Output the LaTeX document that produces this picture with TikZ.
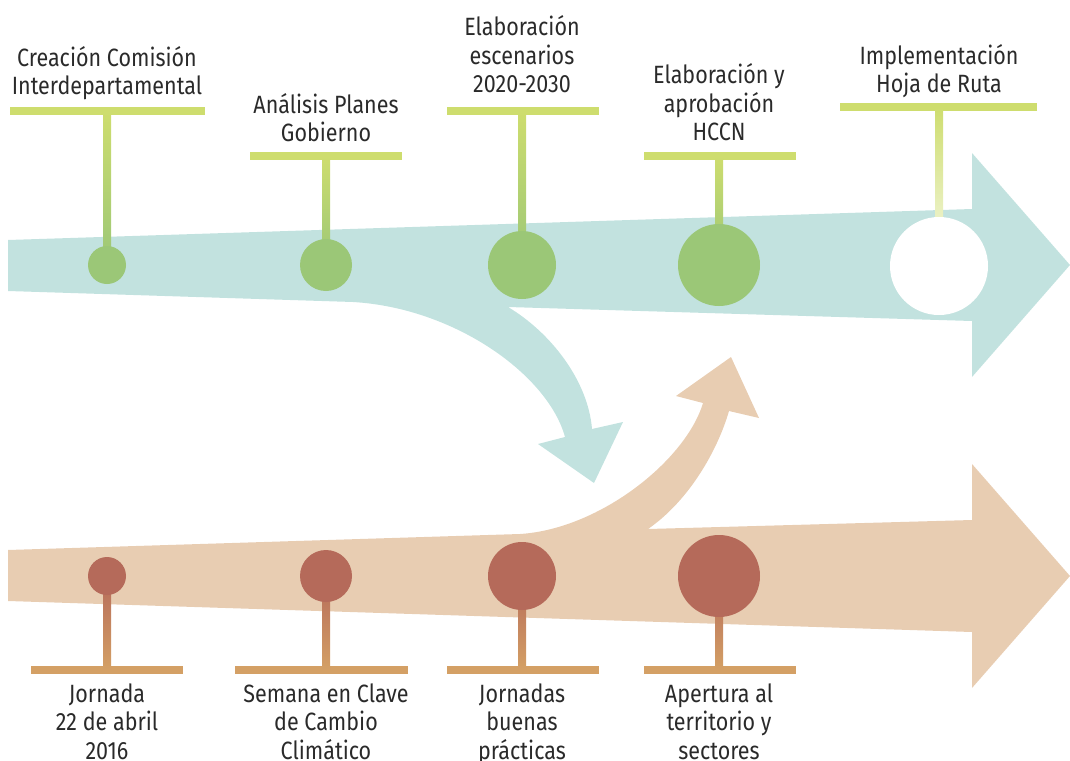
\documentclass[tikz,border=0pt]{standalone}
\usepackage{fontspec}
\setmainfont{Fira Sans}[FakeStretch=0.86]
\definecolor{tealband}{HTML}{C2E2DF}
\definecolor{tanband}{HTML}{E8CDB2}
\definecolor{greendot}{HTML}{9BC777}
\definecolor{browndot}{HTML}{B56A5A}
\definecolor{limebar}{HTML}{CEDD6E}
\definecolor{ochrebar}{HTML}{D4A065}
\definecolor{txt}{HTML}{2A2A2A}
\begin{document}
\begin{tikzpicture}[x=1pt,y=-1pt,
  lbl/.style={font=\fontsize{25}{28.5}\selectfont, text=txt, align=center, inner sep=0pt},
  dot/.style={circle, inner sep=0pt, draw=none, minimum size=#1},
  topdot/.style={dot=#1, fill=greendot},
  botdot/.style={dot=#1, fill=browndot},
  bar/.style={rectangle, inner sep=0pt, draw=none, minimum height=8pt, minimum width=#1},
  topbar/.style={bar=#1, fill=limebar},
  botbar/.style={bar=#1, fill=ochrebar},
  topstem/.style={top color=limebar, bottom color=greendot},
  botstem/.style={top color=browndot, bottom color=ochrebar}
]
\useasboundingbox (0,0) rectangle (1070,760);

% bands
\fill[tealband] (8,240) -- (972,209) -- (972,153) -- (1070,265) -- (972,377) -- (972,321) -- (508,307)
  .. controls (550,332) and (588,380) .. (592,429) -- (623,422) -- (594,483) -- (538,444) -- (565,437)
  .. controls (548,375) and (455,308) .. (353,302) -- (8,291) -- cycle;
\fill[tanband] (8,550) -- (520,534) .. controls (600,529) and (686,460) .. (703,403) -- (676,396)
  -- (731,357) -- (759,418) -- (729,411) .. controls (718,449) and (690,500) .. (648,529)
  -- (972,520) -- (972,464) -- (1070,576) -- (972,688) -- (972,632) -- (8,601) -- cycle;

% bars (top)
\node[topbar=195] (b1) at (107.5,111) {};
\node[topbar=152] (b2) at (326,156) {};
\node[topbar=152] (b3) at (523,111) {};
\node[topbar=152] (b4) at (720,156) {};
\node[topbar=197] (b5) at (938.5,107) {};
% bars (bottom)
\node[botbar=152] (d1) at (107,670) {};
\node[botbar=173] (d2) at (321.5,670) {};
\node[botbar=152] (d3) at (523,670) {};
\node[botbar=152] (d4) at (720,670) {};

% dot positions
\path (107,265) coordinate (c1p) (326,265) coordinate (c2p) (522,265) coordinate (c3p)
      (719,265) coordinate (c4p) (939,266) coordinate (c5p);
\path (107,576) coordinate (e1p) (326,576) coordinate (e2p) (522,576) coordinate (e3p)
      (719,576) coordinate (e4p);

% stems (top)
\shade[topstem] ([xshift=-4pt]b1.center -| c1p) rectangle ([xshift=4pt]c1p);
\shade[topstem] ([xshift=-4pt]b2.center -| c2p) rectangle ([xshift=4pt]c2p);
\shade[topstem] ([xshift=-4pt]b3.center -| c3p) rectangle ([xshift=4pt]c3p);
\shade[topstem] ([xshift=-4pt]b4.center -| c4p) rectangle ([xshift=4pt]c4p);
\shade[top color=limebar, bottom color=white] ([xshift=-4pt]b5.center -| c5p) rectangle ([xshift=4pt,yshift=-30pt]c5p);
% stems (bottom)
\shade[botstem] ([xshift=-4pt]e1p) rectangle ([xshift=4pt]d1.center -| e1p);
\shade[botstem] ([xshift=-4pt]e2p) rectangle ([xshift=4pt]d2.center -| e2p);
\shade[botstem] ([xshift=-4pt]e3p) rectangle ([xshift=4pt]d3.center -| e3p);
\shade[botstem] ([xshift=-4pt]e4p) rectangle ([xshift=4pt]d4.center -| e4p);

\node[topdot=38] (c1) at (c1p) {};
\node[topdot=52] (c2) at (c2p) {};
\node[topdot=68] (c3) at (c3p) {};
\node[topdot=82] (c4) at (c4p) {};
\node[dot=98, fill=white] (c5) at (c5p) {};
\node[botdot=38] (e1) at (e1p) {};
\node[botdot=52] (e2) at (e2p) {};
\node[botdot=68] (e3) at (e3p) {};
\node[botdot=82] (e4) at (e4p) {};

% labels top
\node[lbl, anchor=south] (t1) at (107,103.5) {Creación Comisión\\Interdepartamental\strut};
\node[lbl, anchor=south] (t2) at (326,150.5) {Análisis Planes\\Gobierno\strut};
\node[lbl, anchor=south] (t3) at (522,101.5) {Elaboración\\escenarios\\2020-2030\strut};
\node[lbl, anchor=south] (t4) at (719,149.5) {Elaboración y\\aprobación\\HCCN\strut};
\node[lbl, anchor=south] (t5) at (939,101.5) {Implementación\\Hoja de Ruta\strut};
% labels bottom
\node[lbl, anchor=north] (u1) at (107,682) {\strut Jornada\\22 de abril\\2016};
\node[lbl, anchor=north] (u2) at (326,682) {\strut Semana en Clave\\de Cambio\\Climático};
\node[lbl, anchor=north] (u3) at (522,682) {\strut Jornadas\\buenas\\prácticas};
\node[lbl, anchor=north] (u4) at (719,682) {\strut Apertura al\\territorio y\\sectores};
\end{tikzpicture}
\end{document}
